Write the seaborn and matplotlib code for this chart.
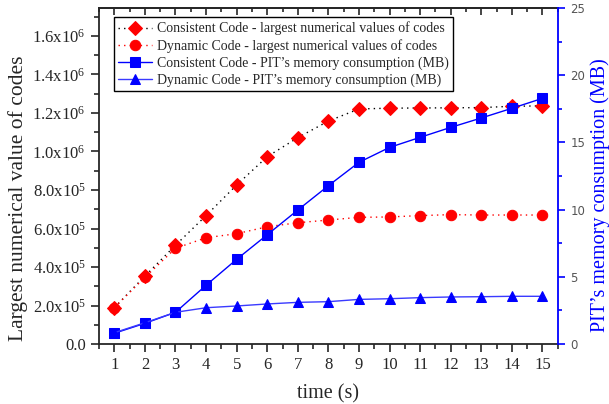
import numpy as np
import pandas as pd
import matplotlib
matplotlib.use("Agg")
import matplotlib.pyplot as plt
import seaborn as sns
from matplotlib.ticker import MultipleLocator, FuncFormatter

# values
time_s = [1, 2, 3, 4, 5, 6, 7, 8, 9, 10, 11, 12, 13, 14, 15]
cons_code = [1.89e5, 3.53e5, 5.13e5, 6.67e5, 8.26e5, 9.73e5, 1.072e6, 1.158e6,
             1.221e6, 1.225e6, 1.226e6, 1.227e6, 1.228e6, 1.235e6, 1.237e6]
dyn_code = [1.89e5, 3.46e5, 4.97e5, 5.52e5, 5.73e5, 6.09e5, 6.30e5, 6.44e5,
            6.58e5, 6.60e5, 6.67e5, 6.72e5, 6.70e5, 6.70e5, 6.70e5]
cons_mem = [0.80, 1.54, 2.36, 4.37, 6.30, 8.13, 9.97, 11.78,
            13.52, 14.63, 15.38, 16.12, 16.82, 17.54, 18.28]
dyn_mem = [0.84, 1.58, 2.36, 2.70, 2.83, 2.98, 3.10, 3.15,
           3.32, 3.37, 3.45, 3.50, 3.52, 3.55, 3.55]

labels = ["Consistent Code - largest numerical values of codes",
          "Dynamic Code - largest numerical values of codes",
          "Consistent Code - PIT\u2019s memory consumption (MB)",
          "Dynamic Code - PIT\u2019s memory consumption (MB)"]

df = pd.DataFrame({"time": time_s, "cons_code": cons_code, "dyn_code": dyn_code,
                   "cons_mem": cons_mem, "dyn_mem": dyn_mem})

sns.set_style("ticks")
plt.rcParams["font.family"] = ["Liberation Serif", "DejaVu Serif"]
plt.rcParams["mathtext.fontset"] = "custom"
plt.rcParams["mathtext.rm"] = "Liberation Serif"
plt.rcParams["mathtext.it"] = "Liberation Serif:italic"

fig, ax = plt.subplots(figsize=(6.09, 4.04), dpi=100)
fig.subplots_adjust(left=0.1626, right=0.9158, top=0.980, bottom=0.1485)
ax2 = ax.twinx()

sns.lineplot(data=df, x="time", y="cons_code", ax=ax, color="black", lw=1,
             linestyle=(0, (1, 3)), marker="D", markersize=7,
             markerfacecolor="red", markeredgecolor="red", label=labels[0], legend=False)
sns.lineplot(data=df, x="time", y="dyn_code", ax=ax, color="red", lw=1,
             linestyle=(0, (1, 3)), marker="o", markersize=7.5,
             markerfacecolor="red", markeredgecolor="red", label=labels[1], legend=False)
sns.lineplot(data=df, x="time", y="cons_mem", ax=ax2, color="blue", lw=1,
             marker="s", markersize=6.5, markerfacecolor="blue",
             markeredgecolor="blue", label=labels[2], legend=False)
sns.lineplot(data=df, x="time", y="dyn_mem", ax=ax2, color="#3a3aff", lw=1,
             marker="^", markersize=7.5, markerfacecolor="blue",
             markeredgecolor="blue", label=labels[3], legend=False)

ax.set_xlim(0.5, 15.5)
ax.set_ylim(0, 1.745e6)
ax2.set_ylim(0, 25)

def sci_fmt(v, pos):
    if v <= 0:
        return "0.0"
    e = int(np.floor(np.log10(v)))
    m = v / 10 ** e
    return f"{m:.1f}x$10^{{{e}}}$"

ax.xaxis.set_major_locator(MultipleLocator(1))
ax.xaxis.set_minor_locator(MultipleLocator(0.5))
ax.yaxis.set_major_locator(MultipleLocator(2e5))
ax.yaxis.set_minor_locator(MultipleLocator(1e5))
ax.yaxis.set_major_formatter(FuncFormatter(sci_fmt))
ax.tick_params(which="major", direction="out", length=6, width=1.2, labelsize=12)
ax.tick_params(which="minor", direction="out", length=3.5, width=1.2)
ax.tick_params(axis="y", right=False)

top = ax.secondary_xaxis("top")
top.xaxis.set_major_locator(MultipleLocator(1))
top.xaxis.set_minor_locator(MultipleLocator(0.5))
top.tick_params(which="major", direction="in", length=5, width=1.2, labeltop=False)
top.tick_params(which="minor", direction="in", length=3, width=1.2)
top.spines["top"].set_linewidth(1.3)

ax2.yaxis.set_major_locator(MultipleLocator(5))
ax2.yaxis.set_minor_locator(MultipleLocator(2.5))
ax2.tick_params(axis="y", which="major", direction="out", length=5, width=1.2, pad=4,
                colors="blue", labelcolor="#555555", labelsize=8.5)
ax2.tick_params(axis="y", which="minor", direction="out", length=3, width=1.2, colors="blue")
for lab in ax2.get_yticklabels():
    lab.set_family("DejaVu Sans")

for s in ["left", "bottom", "top"]:
    ax.spines[s].set_linewidth(1.3)
    ax2.spines[s].set_visible(False)
ax.spines["right"].set_visible(False)
ax2.spines["right"].set_color("blue")
ax2.spines["right"].set_linewidth(1.3)

ax.set_xlabel("time (s)", fontsize=14.5)
ax.xaxis.set_label_coords(0.5, -0.121)
ax.set_ylabel("Largest numerical value of codes", fontsize=15.5)
ax.yaxis.set_label_coords(-0.155, 0.435)
ax2.set_ylabel("PIT\u2019s memory consumption (MB)", fontsize=14.5, color="blue")
ax2.yaxis.set_label_coords(1.071, 0.443)

h1, l1 = ax.get_legend_handles_labels()
h2, l2 = ax2.get_legend_handles_labels()
leg = ax2.legend(h1 + h2, l1 + l2, loc="upper left", bbox_to_anchor=(0.033, 0.972),
                 fontsize=10, frameon=True, fancybox=False, edgecolor="black",
                 framealpha=1, borderpad=0.3, labelspacing=0.26, handlelength=2.45,
                 handletextpad=0.3, borderaxespad=0)
leg.get_frame().set_linewidth(1)

fig.savefig("out.png", dpi=100)
